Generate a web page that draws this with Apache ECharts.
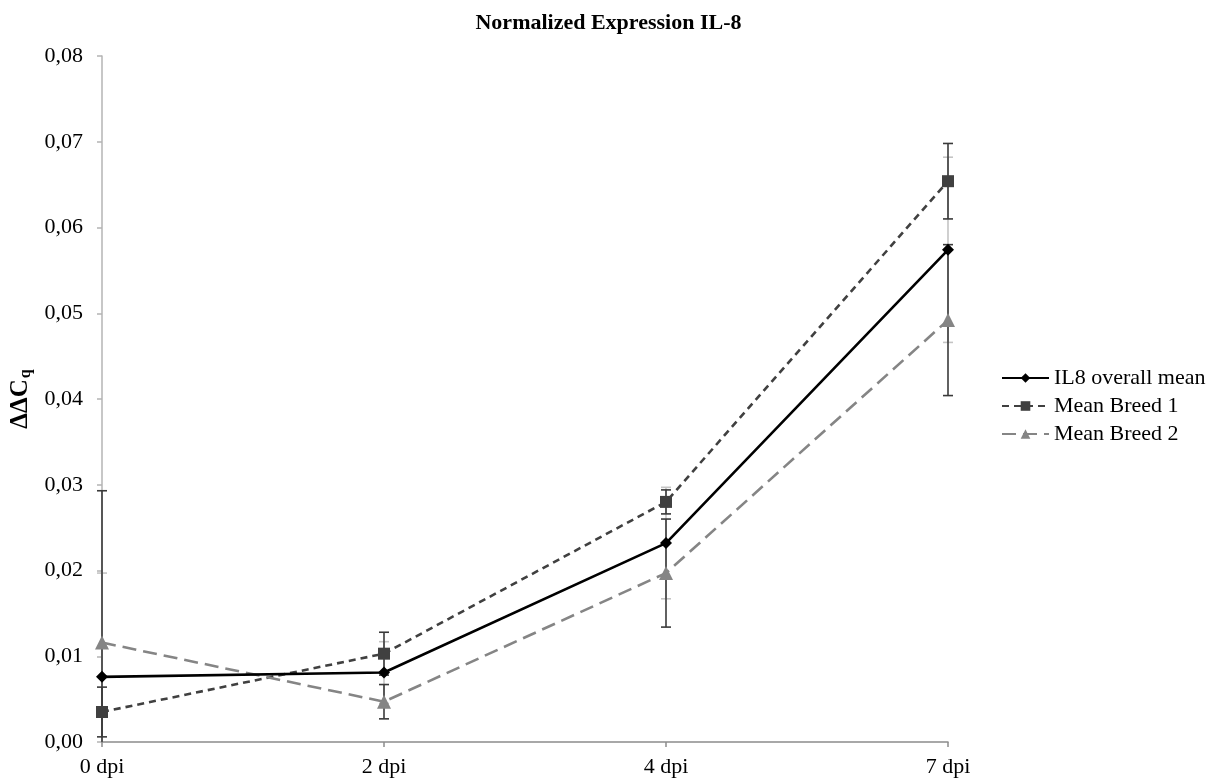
<!DOCTYPE html>
<html>
<head>
<meta charset="utf-8">
<title>Normalized Expression IL-8</title>
<script src="https://cdn.jsdelivr.net/npm/echarts@6/dist/echarts.min.js"></script>
<style>
  html, body { margin: 0; padding: 0; background: #fff; }
  #chart { width: 1217px; height: 779px; }
</style>
</head>
<body>
<div id="chart"></div>
<script>
// data
var days = ['0 dpi', '2 dpi', '4 dpi', '7 dpi']
var overallMean = [0.0076, 0.0081, 0.0232, 0.0574]
var overallErr = [0.0121, 0.0036, 0.0065, 0.0108]
var breed1Mean = [0.0035, 0.0103, 0.0280, 0.0654]
var breed1Err = [0.0029, 0.0025, 0.0014, 0.0044]
var breed2Mean = [0.0116, 0.0047, 0.0197, 0.0492]
var breed2Err = [0.0177, 0.0020, 0.0063, 0.0088]

var serif = 'Liberation Serif'
var chart = echarts.init(document.getElementById('chart'))

function errData (mean, err) {
  return mean.map(function (v, i) { return [i, v - err[i], v + err[i]] })
}

function errSeries (name, mean, err, color, z) {
  return {
    name: name,
    type: 'custom',
    z: z,
    silent: true,
    data: errData(mean, err),
    renderItem: function (params, api) {
      var i = api.value(0)
      var lo = api.value(1)
      var hi = api.value(2)
      var top = api.coord([i, hi])
      var bot = api.coord([i, Math.max(lo, 0)])
      var style = { stroke: color, lineWidth: 1.6 }
      var children = [
        { type: 'line', shape: { x1: top[0], y1: top[1], x2: bot[0], y2: bot[1] }, style: style },
        { type: 'line', shape: { x1: top[0] - 5, y1: top[1], x2: top[0] + 5, y2: top[1] }, style: style }
      ]
      // no cap when the bar is cut off by the axis
      if (lo >= 0) {
        children.push({ type: 'line', shape: { x1: bot[0] - 5, y1: bot[1], x2: bot[0] + 5, y2: bot[1] }, style: style })
      }
      return { type: 'group', children: children }
    }
  }
}

chart.setOption({
  backgroundColor: '#fff',
  animation: false,
  title: {
    text: 'Normalized Expression IL-8',
    left: 'center',
    top: 7,
    textStyle: { fontFamily: serif, fontSize: 22, fontWeight: 'bold', color: '#000' }
  },
  grid: { left: 102, right: 269, top: 56, bottom: 37 },
  legend: {
    data: ['IL8 overall mean', 'Mean Breed 1', 'Mean Breed 2'],
    orient: 'vertical',
    left: 996,
    top: 362,
    itemWidth: 47,
    itemHeight: 12,
    itemGap: 6,
    textStyle: { fontFamily: serif, fontSize: 22, color: '#000' }
  },
  xAxis: {
    type: 'category',
    data: days,
    boundaryGap: false,
    axisLine: { lineStyle: { color: '#8c8c8c', width: 1.5 } },
    axisTick: { length: 5, lineStyle: { color: '#8c8c8c', width: 1.5 } },
    axisLabel: { fontFamily: serif, fontSize: 22, color: '#000', margin: 14 },
    splitLine: { show: false }
  },
  yAxis: {
    type: 'value',
    min: 0,
    max: 0.08,
    interval: 0.01,
    name: '{m|ΔΔC}{s|q}',
    nameLocation: 'middle',
    nameRotate: 90,
    nameGap: 64,
    nameTextStyle: {
      rich: {
        m: { fontFamily: serif, fontSize: 25, fontWeight: 'bold', color: '#000' },
        s: { fontFamily: serif, fontSize: 16, fontWeight: 'bold', color: '#000', verticalAlign: 'bottom', padding: [10, 0, 0, 1] }
      }
    },
    axisLine: { show: true, lineStyle: { color: '#b4b4b4', width: 1.5 } },
    axisTick: { show: true, length: 5, lineStyle: { color: '#b4b4b4', width: 1.5 } },
    axisLabel: {
      fontFamily: serif,
      fontSize: 22,
      color: '#000',
      margin: 19,
      formatter: function (v) { return v.toFixed(2).replace('.', ',') }
    },
    splitLine: { show: false }
  },
  series: [
    errSeries('err overall', overallMean, overallErr, '#c4c4c4', 1),
    errSeries('err breed 1', breed1Mean, breed1Err, '#3a3a3a', 2),
    errSeries('err breed 2', breed2Mean, breed2Err, '#3a3a3a', 2),
    {
      name: 'IL8 overall mean',
      type: 'line',
      z: 5,
      data: overallMean,
      symbol: 'diamond',
      symbolSize: 12,
      color: '#000',
      lineStyle: { color: '#000', width: 2.6, type: 'solid' },
      itemStyle: { color: '#000' }
    },
    {
      name: 'Mean Breed 1',
      type: 'line',
      z: 4,
      data: breed1Mean,
      symbol: 'rect',
      symbolSize: 12,
      color: '#404040',
      lineStyle: { color: '#404040', width: 2.6, type: [7, 5] },
      itemStyle: { color: '#404040' }
    },
    {
      name: 'Mean Breed 2',
      type: 'line',
      z: 4,
      data: breed2Mean,
      symbol: 'triangle',
      symbolSize: 14,
      color: '#858585',
      lineStyle: { color: '#858585', width: 2.6, type: [14, 7] },
      itemStyle: { color: '#858585' }
    }
  ]
})
</script>
</body>
</html>
